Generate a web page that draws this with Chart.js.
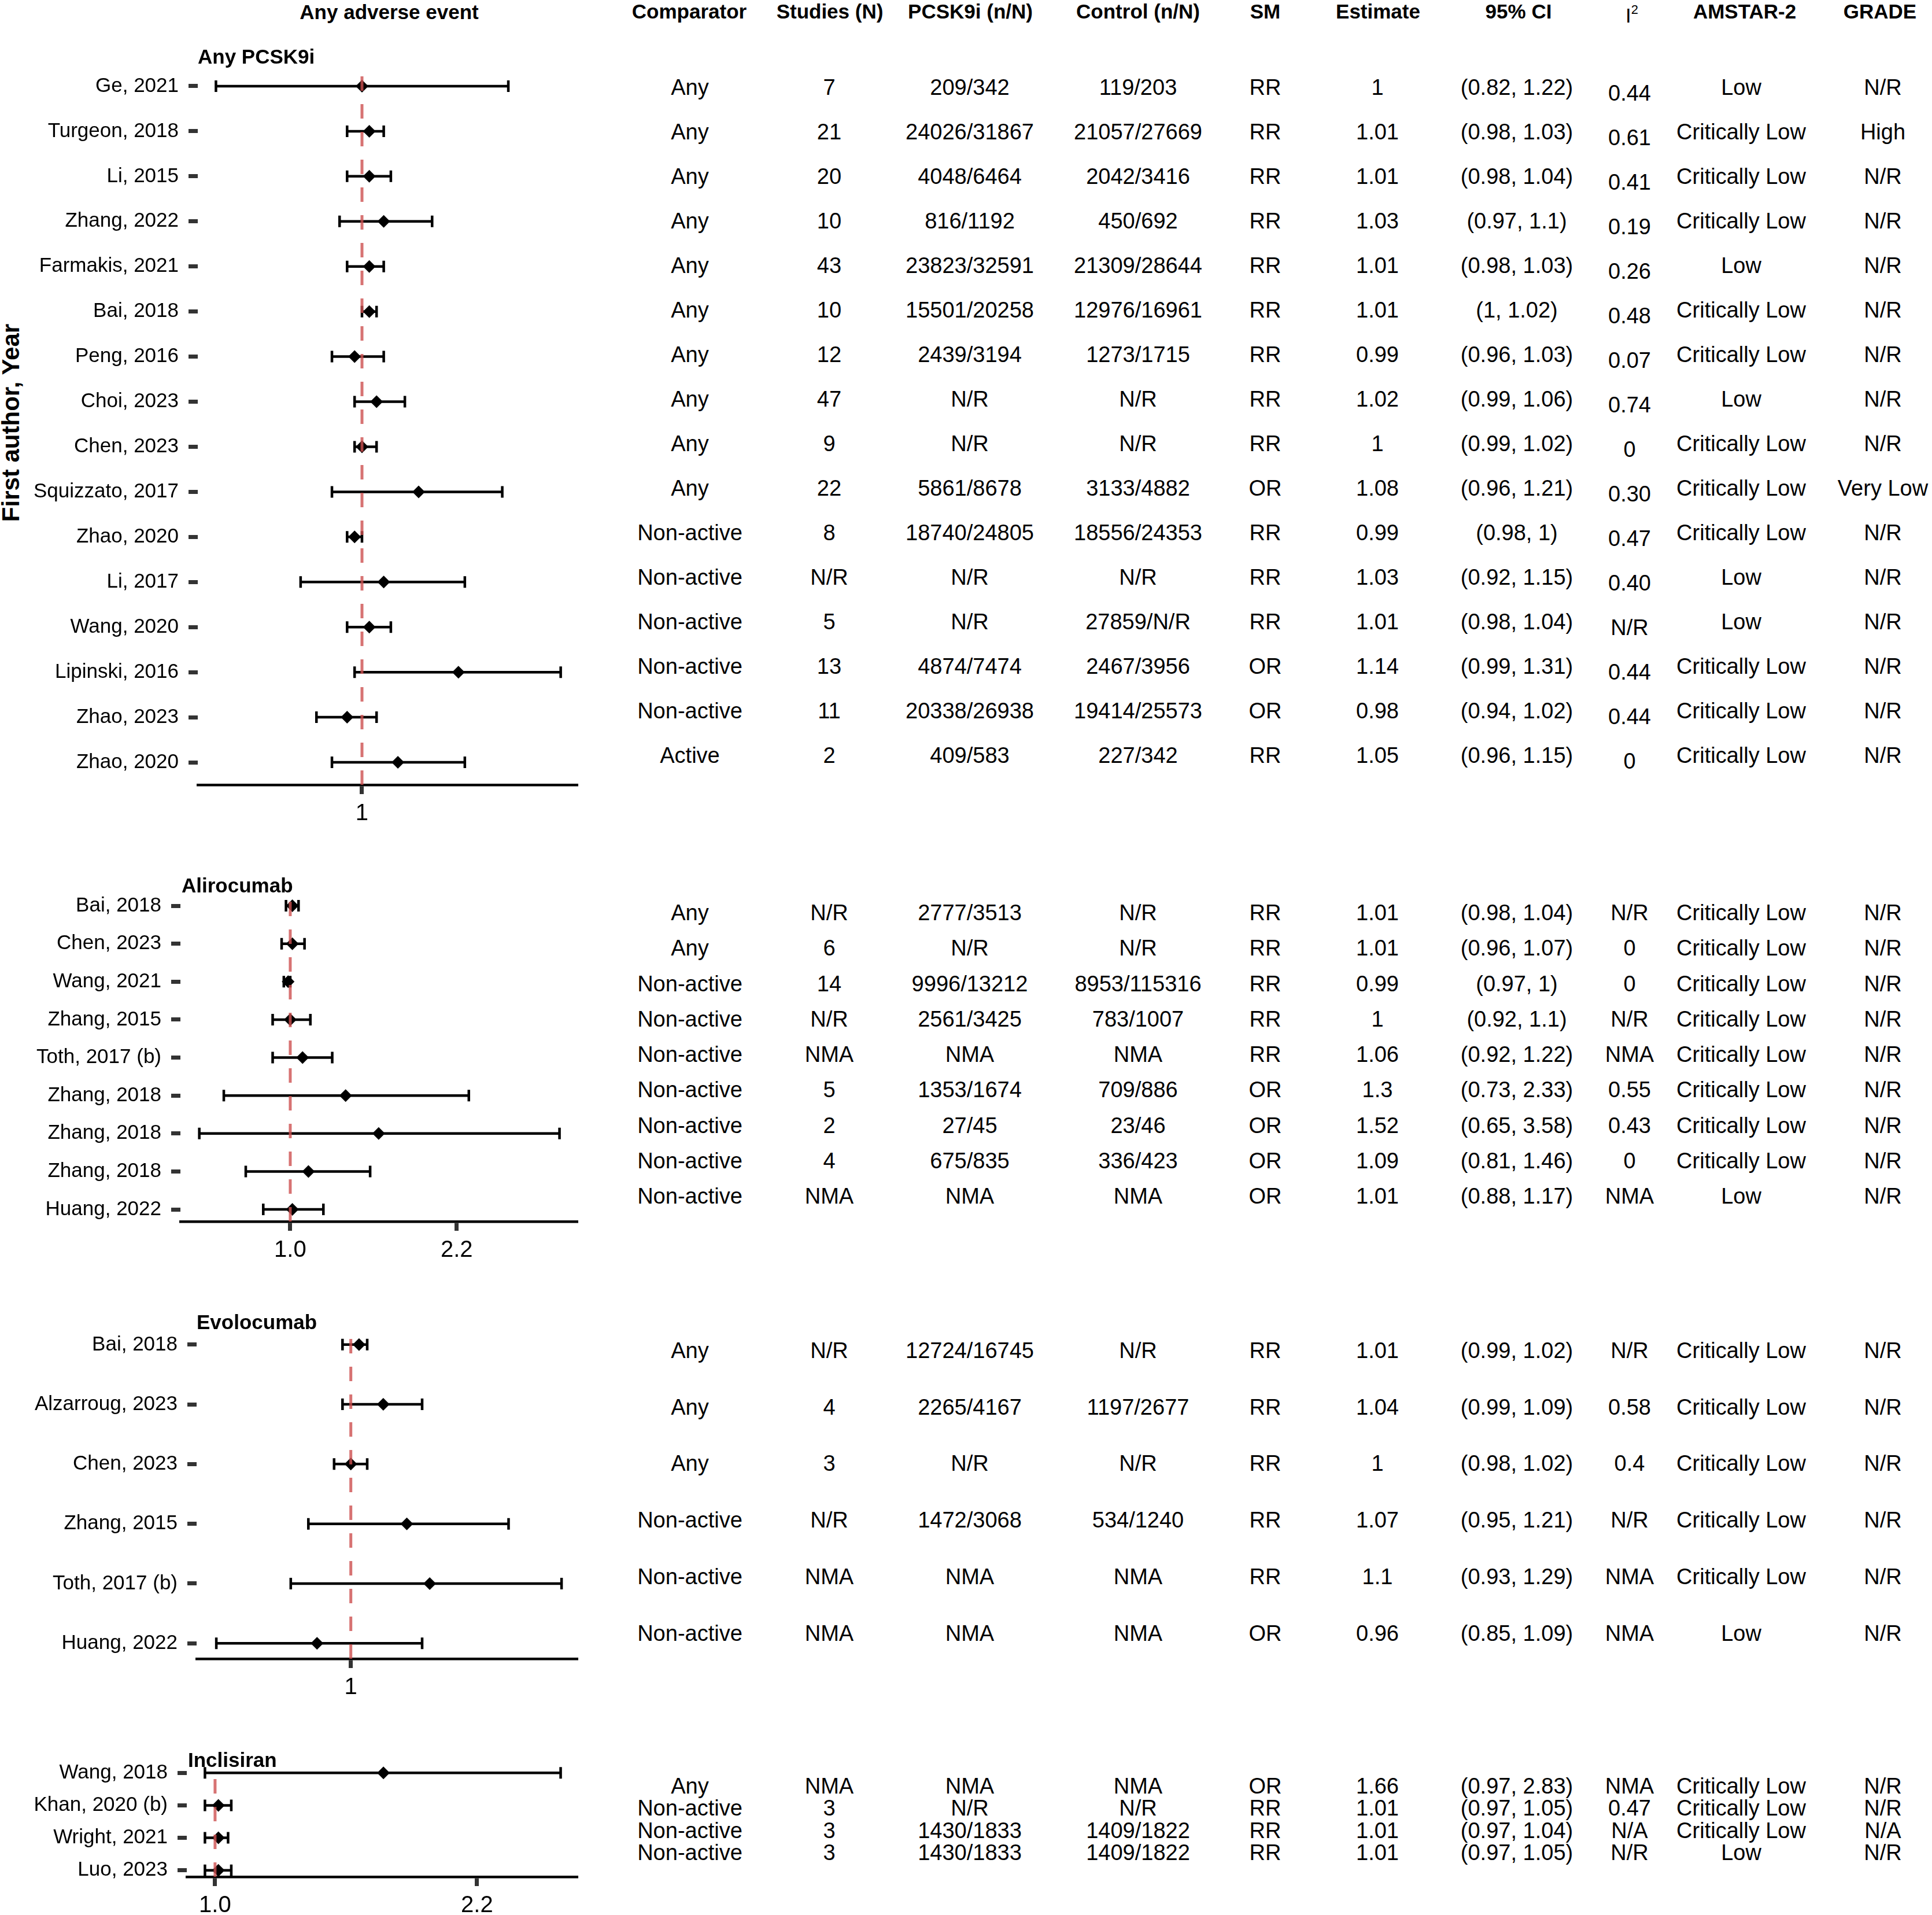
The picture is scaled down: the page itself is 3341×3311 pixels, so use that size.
<!DOCTYPE html>
<html>
<head>
<meta charset="utf-8">
<script src="https://cdn.jsdelivr.net/npm/chart.js@4.4.1/dist/chart.umd.min.js"></script>
<style>
body { margin: 0; background: #fff; }
#page { position: relative; width: 3341px; height: 3311px; overflow: hidden; background: #fff;
        font-family: "Liberation Sans", Arial, Helvetica, sans-serif; color: #000; }
#page canvas { position: absolute; left: 0; }
.t { position: absolute; white-space: nowrap; line-height: 1; transform: translate(-50%, -50%); }
.hd { font-weight: bold; font-size: 35px; }
.cell { font-size: 38px; }
.ttl { position: absolute; white-space: nowrap; line-height: 1; transform: translate(0, -50%);
       font-weight: bold; font-size: 35px; }
</style>
</head>
<body>
<div id="page"></div>
<script>
// ---- data ----

// Any PCSK9i
var anyAuthors = ['Ge, 2021', 'Turgeon, 2018', 'Li, 2015', 'Zhang, 2022', 'Farmakis, 2021', 'Bai, 2018',
    'Peng, 2016', 'Choi, 2023', 'Chen, 2023', 'Squizzato, 2017', 'Zhao, 2020', 'Li, 2017',
    'Wang, 2020', 'Lipinski, 2016', 'Zhao, 2023', 'Zhao, 2020'];
var anyEst  = [1, 1.01, 1.01, 1.03, 1.01, 1.01, 0.99, 1.02, 1, 1.08, 0.99, 1.03, 1.01, 1.14, 0.98, 1.05];
var anyLow  = [0.82, 0.98, 0.98, 0.97, 0.98, 1, 0.96, 0.99, 0.99, 0.96, 0.98, 0.92, 0.98, 0.99, 0.94, 0.96];
var anyHigh = [1.22, 1.03, 1.04, 1.1, 1.03, 1.02, 1.03, 1.06, 1.02, 1.21, 1, 1.15, 1.04, 1.31, 1.02, 1.15];
var anyComparator = ['Any', 'Any', 'Any', 'Any', 'Any', 'Any', 'Any', 'Any', 'Any', 'Any',
    'Non-active', 'Non-active', 'Non-active', 'Non-active', 'Non-active', 'Active'];
var anyStudies = ['7', '21', '20', '10', '43', '10', '12', '47', '9', '22', '8', 'N/R', '5', '13', '11', '2'];
var anyPcsk9i = ['209/342', '24026/31867', '4048/6464', '816/1192', '23823/32591', '15501/20258',
    '2439/3194', 'N/R', 'N/R', '5861/8678', '18740/24805', 'N/R', 'N/R', '4874/7474', '20338/26938', '409/583'];
var anyControl = ['119/203', '21057/27669', '2042/3416', '450/692', '21309/28644', '12976/16961',
    '1273/1715', 'N/R', 'N/R', '3133/4882', '18556/24353', 'N/R', '27859/N/R', '2467/3956', '19414/25573', '227/342'];
var anySM = ['RR', 'RR', 'RR', 'RR', 'RR', 'RR', 'RR', 'RR', 'RR', 'OR', 'RR', 'RR', 'RR', 'OR', 'OR', 'RR'];
var anyI2 = ['0.44', '0.61', '0.41', '0.19', '0.26', '0.48', '0.07', '0.74', '0', '0.30', '0.47', '0.40',
    'N/R', '0.44', '0.44', '0'];
var anyAmstar = ['Low', 'Critically Low', 'Critically Low', 'Critically Low', 'Low', 'Critically Low',
    'Critically Low', 'Low', 'Critically Low', 'Critically Low', 'Critically Low', 'Low', 'Low',
    'Critically Low', 'Critically Low', 'Critically Low'];
var anyGrade = ['N/R', 'High', 'N/R', 'N/R', 'N/R', 'N/R', 'N/R', 'N/R', 'N/R', 'Very Low', 'N/R', 'N/R',
    'N/R', 'N/R', 'N/R', 'N/R'];

// Alirocumab
var aliAuthors = ['Bai, 2018', 'Chen, 2023', 'Wang, 2021', 'Zhang, 2015', 'Toth, 2017 (b)',
    'Zhang, 2018', 'Zhang, 2018', 'Zhang, 2018', 'Huang, 2022'];
var aliEst  = [1.01, 1.01, 0.99, 1, 1.06, 1.3, 1.52, 1.09, 1.01];
var aliLow  = [0.98, 0.96, 0.97, 0.92, 0.92, 0.73, 0.65, 0.81, 0.88];
var aliHigh = [1.04, 1.07, 1, 1.1, 1.22, 2.33, 3.58, 1.46, 1.17];
var aliComparator = ['Any', 'Any', 'Non-active', 'Non-active', 'Non-active', 'Non-active', 'Non-active',
    'Non-active', 'Non-active'];
var aliStudies = ['N/R', '6', '14', 'N/R', 'NMA', '5', '2', '4', 'NMA'];
var aliPcsk9i = ['2777/3513', 'N/R', '9996/13212', '2561/3425', 'NMA', '1353/1674', '27/45', '675/835', 'NMA'];
var aliControl = ['N/R', 'N/R', '8953/115316', '783/1007', 'NMA', '709/886', '23/46', '336/423', 'NMA'];
var aliSM = ['RR', 'RR', 'RR', 'RR', 'RR', 'OR', 'OR', 'OR', 'OR'];
var aliI2 = ['N/R', '0', '0', 'N/R', 'NMA', '0.55', '0.43', '0', 'NMA'];
var aliAmstar = ['Critically Low', 'Critically Low', 'Critically Low', 'Critically Low', 'Critically Low',
    'Critically Low', 'Critically Low', 'Critically Low', 'Low'];
var aliGrade = ['N/R', 'N/R', 'N/R', 'N/R', 'N/R', 'N/R', 'N/R', 'N/R', 'N/R'];

// Evolocumab
var evoAuthors = ['Bai, 2018', 'Alzarroug, 2023', 'Chen, 2023', 'Zhang, 2015', 'Toth, 2017 (b)', 'Huang, 2022'];
var evoEst  = [1.01, 1.04, 1, 1.07, 1.1, 0.96];
var evoLow  = [0.99, 0.99, 0.98, 0.95, 0.93, 0.85];
var evoHigh = [1.02, 1.09, 1.02, 1.21, 1.29, 1.09];
var evoComparator = ['Any', 'Any', 'Any', 'Non-active', 'Non-active', 'Non-active'];
var evoStudies = ['N/R', '4', '3', 'N/R', 'NMA', 'NMA'];
var evoPcsk9i = ['12724/16745', '2265/4167', 'N/R', '1472/3068', 'NMA', 'NMA'];
var evoControl = ['N/R', '1197/2677', 'N/R', '534/1240', 'NMA', 'NMA'];
var evoSM = ['RR', 'RR', 'RR', 'RR', 'RR', 'OR'];
var evoI2 = ['N/R', '0.58', '0.4', 'N/R', 'NMA', 'NMA'];
var evoAmstar = ['Critically Low', 'Critically Low', 'Critically Low', 'Critically Low', 'Critically Low', 'Low'];
var evoGrade = ['N/R', 'N/R', 'N/R', 'N/R', 'N/R', 'N/R'];

// Inclisiran
var incAuthors = ['Wang, 2018', 'Khan, 2020 (b)', 'Wright, 2021', 'Luo, 2023'];
var incEst  = [1.66, 1.01, 1.01, 1.01];
var incLow  = [0.97, 0.97, 0.97, 0.97];
var incHigh = [2.83, 1.05, 1.04, 1.05];
var incComparator = ['Any', 'Non-active', 'Non-active', 'Non-active'];
var incStudies = ['NMA', '3', '3', '3'];
var incPcsk9i = ['NMA', 'N/R', '1430/1833', '1430/1833'];
var incControl = ['NMA', 'N/R', '1409/1822', '1409/1822'];
var incSM = ['OR', 'RR', 'RR', 'RR'];
var incI2 = ['NMA', '0.47', 'N/A', 'N/R'];
var incAmstar = ['Critically Low', 'Critically Low', 'Critically Low', 'Low'];
var incGrade = ['N/R', 'N/R', 'N/A', 'N/R'];

// axis ticks
var ticksOne = [1];
var ticksOneLabels = ['1'];
var ticksTwo = [1, 2.2];
var ticksTwoLabels = ['1.0', '2.2'];

var headers = ['Comparator', 'Studies (N)', 'PCSK9i (n/N)', 'Control (n/N)', 'SM', 'Estimate', '95% CI',
    'I2', 'AMSTAR-2', 'GRADE'];

// ---- layout ----
var page = document.getElementById('page');
var headerX = [1192, 1435, 1678, 1968, 2188, 2383, 2626, 2822, 3017, 3251];
var colX = [1193, 1434, 1677, 1968, 2188, 2382, 2623, 2818, 3011, 3256];

var panels = [
    { title: 'Any PCSK9i', titleX: 342, titleY: 97, left: 342, row0: 149, step: 77.93, pad: 0.5,
      xMin: 0.8012, xMax: 1.3406, xTicks: ticksOne, xLabels: ticksOneLabels,
      tRow0: 151, tStep: 77.0, i2Shift: 10,
      authors: anyAuthors, est: anyEst, low: anyLow, high: anyHigh,
      cols: [anyComparator, anyStudies, anyPcsk9i, anyControl, anySM], i2: anyI2, amstar: anyAmstar, grade: anyGrade },
    { title: 'Alirocumab', titleX: 314, titleY: 1530, left: 312, row0: 1566, step: 65.6, pad: 0.32,
      xMin: 0.5944, xMax: 3.902, xTicks: ticksTwo, xLabels: ticksTwoLabels,
      tRow0: 1578, tStep: 61.25, i2Shift: 0,
      authors: aliAuthors, est: aliEst, low: aliLow, high: aliHigh,
      cols: [aliComparator, aliStudies, aliPcsk9i, aliControl, aliSM], i2: aliI2, amstar: aliAmstar, grade: aliGrade },
    { title: 'Evolocumab', titleX: 340, titleY: 2285, left: 340, row0: 2325, step: 103.3, pad: 0.26,
      xMin: 0.833, xMax: 1.3154, xTicks: ticksOne, xLabels: ticksOneLabels,
      tRow0: 2335, tStep: 97.7, i2Shift: 0,
      authors: evoAuthors, est: evoEst, low: evoLow, high: evoHigh,
      cols: [evoComparator, evoStudies, evoPcsk9i, evoControl, evoSM], i2: evoI2, amstar: evoAmstar, grade: evoGrade },
    { title: 'Inclisiran', titleX: 325, titleY: 3042, left: 323, row0: 3065, step: 56.3, pad: 0.2,
      xMin: 0.9184, xMax: 2.979, xTicks: ticksTwo, xLabels: ticksTwoLabels,
      tRow0: 3088, tStep: 38.4, i2Shift: 0,
      authors: incAuthors, est: incEst, low: incLow, high: incHigh,
      cols: [incComparator, incStudies, incPcsk9i, incControl, incSM], i2: incI2, amstar: incAmstar, grade: incGrade }
];

Chart.defaults.font.family = '"Liberation Sans", Arial, Helvetica, sans-serif';
Chart.defaults.color = '#000';

function addText(cls, txt, x, y) {
    var d = document.createElement('div');
    d.className = cls;
    d.textContent = txt;
    d.style.left = x + 'px';
    d.style.top = y + 'px';
    page.appendChild(d);
    return d;
}

// error bars drawn under the diamonds
var errorBars = {
    id: 'errorBars',
    beforeDatasetsDraw: function (chart) {
        var ctx = chart.ctx;
        var xs = chart.scales.x, ys = chart.scales.y;
        var ds = chart.data.datasets[1];
        ctx.save();
        ctx.strokeStyle = '#000';
        ctx.lineWidth = 4.5;
        ds.low.forEach(function (lo, i) {
            var x0 = xs.getPixelForValue(lo);
            var x1 = xs.getPixelForValue(ds.high[i]);
            var y = ys.getPixelForValue(i);
            ctx.beginPath();
            ctx.moveTo(x0, y); ctx.lineTo(x1, y);
            ctx.moveTo(x0, y - 10); ctx.lineTo(x0, y + 10);
            ctx.moveTo(x1, y - 10); ctx.lineTo(x1, y + 10);
            ctx.stroke();
        });
        ctx.restore();
    }
};

function drawPanel(p) {
    var n = p.authors.length;
    var top = p.row0 - p.pad * p.step;
    var areaH = (n - 1 + 2 * p.pad) * p.step;
    var h = Math.round(20 + areaH + 80);
    var canvas = document.createElement('canvas');
    canvas.width = 1010;
    canvas.height = h;
    canvas.style.width = '1010px';
    canvas.style.height = h + 'px';
    canvas.style.top = Math.round(top - 20) + 'px';
    page.appendChild(canvas);

    new Chart(canvas.getContext('2d'), {
        type: 'scatter',
        data: {
            datasets: [
                {
                    type: 'line',
                    data: [{ x: 1, y: n - 1 + p.pad }, { x: 1, y: -p.pad }],
                    borderColor: 'rgba(205, 80, 80, 0.8)',
                    borderWidth: 5,
                    borderDash: [25, 23],
                    pointRadius: 0,
                    order: 0
                },
                {
                    data: p.est.map(function (v, i) { return { x: v, y: i }; }),
                    low: p.low,
                    high: p.high,
                    pointStyle: 'rectRot',
                    pointRadius: 11,
                    backgroundColor: '#000',
                    borderWidth: 0,
                    order: 1
                }
            ]
        },
        options: {
            responsive: false,
            animation: false,
            events: [],
            layout: { padding: { top: 20, right: 5, bottom: 0, left: 0 } },
            plugins: { legend: { display: false }, tooltip: { enabled: false } },
            scales: {
                x: {
                    type: 'logarithmic',
                    min: p.xMin,
                    max: p.xMax,
                    afterBuildTicks: function (s) { s.ticks = p.xTicks.map(function (v) { return { value: v }; }); },
                    afterFit: function (s) { s.height = 80; s.paddingLeft = 0; s.paddingRight = 0; },
                    ticks: {
                        autoSkip: false, maxRotation: 0, padding: 10, color: '#000', font: { size: 40 },
                        callback: function (v) { return p.xLabels[p.xTicks.indexOf(v)]; }
                    },
                    grid: { drawOnChartArea: false, tickLength: 16, tickWidth: 7, tickColor: '#333' },
                    border: { display: true, width: 4.5, color: '#000' }
                },
                y: {
                    type: 'linear',
                    reverse: true,
                    min: -p.pad,
                    max: n - 1 + p.pad,
                    afterBuildTicks: function (s) { s.ticks = p.authors.map(function (a, i) { return { value: i }; }); },
                    afterFit: function (s) { s.width = p.left; s.paddingTop = 0; s.paddingBottom = 0; },
                    ticks: {
                        autoSkip: false, padding: 17, color: '#000', font: { size: 35 },
                        callback: function (v) { return p.authors[v]; }
                    },
                    grid: { drawOnChartArea: false, tickLength: 16, tickWidth: 7, tickColor: '#333' },
                    border: { display: false }
                }
            }
        },
        plugins: [errorBars]
    });

    // panel title
    addText('ttl', p.title, p.titleX, p.titleY);

    // table rows
    for (var i = 0; i < n; i++) {
        var y = p.tRow0 + i * p.tStep;
        var vals = [p.cols[0][i], p.cols[1][i], p.cols[2][i], p.cols[3][i], p.cols[4][i],
            String(p.est[i]), '(' + p.low[i] + ', ' + p.high[i] + ')', p.i2[i], p.amstar[i], p.grade[i]];
        vals.forEach(function (v, c) {
            addText('t cell', v, colX[c], y + (c === 7 ? p.i2Shift : 0));
        });
    }
}

// headers
addText('t hd', 'Any adverse event', 673, 20);
headers.forEach(function (h, c) {
    if (h === 'I2') {
        var d = addText('t', '', headerX[c], 26);
        d.style.fontSize = '35px';
        d.innerHTML = 'I<span style="font-size:22px; position:relative; top:-15px;">2</span>';
    } else {
        addText('t hd', h, headerX[c], 19);
    }
});

// y axis title
var yt = addText('t', 'First author, Year', 19, 731);
yt.style.fontSize = '42px';
yt.style.fontWeight = 'bold';
yt.style.transform = 'translate(-50%, -50%) rotate(-90deg)';

panels.forEach(drawPanel);
</script>
</body>
</html>
